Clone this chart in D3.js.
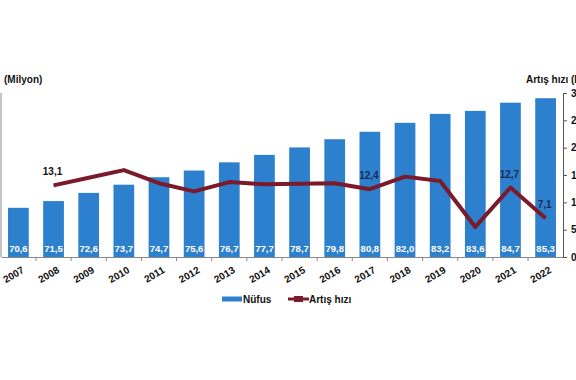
<!DOCTYPE html>
<html lang="tr">
<head>
<meta charset="UTF-8">
<title>Nüfus ve artış hızı</title>
<script src="https://cdn.jsdelivr.net/npm/d3@7"></script>
<style>
  body { margin: 0; background: #fff; }
  text { font-family: "Liberation Sans", Arial, sans-serif; }
</style>
</head>
<body>
<script>
// yillar, nufus (milyon) ve yillik artis hizi (binde)
var years = ["2007","2008","2009","2010","2011","2012","2013","2014","2015","2016","2017","2018","2019","2020","2021","2022"];
var population = [70.6, 71.5, 72.6, 73.7, 74.7, 75.6, 76.7, 77.7, 78.7, 79.8, 80.8, 82.0, 83.2, 83.6, 84.7, 85.3];
var growth = [null, 13.1, 14.5, 15.9, 13.5, 12.0, 13.7, 13.3, 13.4, 13.5, 12.4, 14.7, 13.9, 5.5, 12.7, 7.1];
var growthLabelled = ["2008", "2017", "2021", "2022"];
var rightTicks = [0, 5, 10, 15, 20, 25, 30];

var width = 576, height = 380;
// "top" is taken by window.top, so plot edges get their own names
var plotL = 1, plotR = 563, plotT = 93, plotB = 257;
var barColor = "#2d80cd", lineColor = "#7a1a2a";

var svg = d3.select("body").append("svg").attr("width", width).attr("height", height);

var x = d3.scaleBand().domain(years).range([plotL, plotR]).paddingInner(0.41).paddingOuter(0.2);
var yL = d3.scaleLinear().domain([64, 86]).range([plotB, plotT]);
var yR = d3.scaleLinear().domain([0, 30]).range([plotB, plotT]);

// bars
svg.selectAll("rect.bar")
    .data(population)
    .enter().append("rect")
    .attr("class", "bar")
    .attr("x", function(d, i) { return x(years[i]); })
    .attr("y", function(d) { return yL(d); })
    .attr("width", x.bandwidth())
    .attr("height", function(d) { return plotB - yL(d); })
    .attr("fill", barColor);

svg.selectAll("text.barlab")
    .data(population)
    .enter().append("text")
    .attr("class", "barlab")
    .attr("x", function(d, i) { return x(years[i]) + x.bandwidth() / 2; })
    .attr("y", plotB - 5)
    .attr("text-anchor", "middle")
    .attr("font-size", 9.5)
    .attr("font-weight", "bold")
    .attr("fill", "#fff")
    .text(function(d) { return d.toFixed(1).replace(".", ","); });

// axes
var gx = svg.append("g").attr("transform", "translate(0," + plotB + ")")
    .call(d3.axisBottom(x).tickSize(0).tickFormat(""));
gx.select(".domain").attr("stroke", "#888");
svg.append("g").selectAll("line")
    .data(years.slice(1))
    .enter().append("line")
    .attr("x1", function(d) { return x(d) - x.step() * x.paddingInner() / 2; })
    .attr("x2", function(d) { return x(d) - x.step() * x.paddingInner() / 2; })
    .attr("y1", plotB).attr("y2", plotB + 4)
    .attr("stroke", "#888");

svg.selectAll("text.year")
    .data(years)
    .enter().append("text")
    .attr("class", "year")
    .attr("transform", function(d) {
        return "translate(" + (x(d) + x.bandwidth() / 2 + 3) + "," + (plotB + 9) + ") rotate(-30)";
    })
    .attr("text-anchor", "end")
    .attr("dy", "0.7em")
    .attr("font-size", 10)
    .attr("font-weight", "bold")
    .attr("fill", "#111")
    .text(function(d) { return d; });

svg.append("line")
    .attr("x1", plotL).attr("x2", plotL).attr("y1", plotT).attr("y2", plotB)
    .attr("stroke", "#888");

var gr = svg.append("g").attr("transform", "translate(" + plotR + ",0)")
    .call(d3.axisRight(yR).tickValues(rightTicks).tickSize(4).tickPadding(4));
gr.select(".domain").attr("stroke", "#555");
gr.selectAll(".tick line").attr("stroke", "#555");
gr.selectAll(".tick text")
    .attr("font-size", 10).attr("font-weight", "bold").attr("fill", "#111")
    .style("font-family", "'Liberation Sans', Arial, sans-serif");

svg.append("text").attr("x", 4).attr("y", 83)
    .attr("font-size", 10).attr("font-weight", "bold").attr("fill", "#111")
    .text("(Milyon)");
svg.append("text").attr("x", 526).attr("y", 83)
    .attr("font-size", 10).attr("font-weight", "bold").attr("fill", "#111")
    .text("Artış hızı (Binde)");

// growth line
var pts = years.map(function(y, i) { return { year: y, v: growth[i] }; })
    .filter(function(d) { return d.v !== null; });
var line = d3.line()
    .x(function(d) { return x(d.year) + x.bandwidth() / 2; })
    .y(function(d) { return yR(d.v); });
svg.append("path").datum(pts)
    .attr("d", line)
    .attr("fill", "none")
    .attr("stroke", lineColor)
    .attr("stroke-width", 4)
    .attr("stroke-linejoin", "round");

svg.selectAll("text.glab")
    .data(pts.filter(function(d) { return growthLabelled.indexOf(d.year) >= 0; }))
    .enter().append("text")
    .attr("class", "glab")
    .attr("x", function(d) { return x(d.year) + x.bandwidth() / 2 - 1; })
    .attr("y", function(d) { return yR(d.v) - 10; })
    .attr("text-anchor", "middle")
    .attr("font-size", 10)
    .attr("font-weight", "bold")
    .attr("fill", function(d) { return d.year === "2008" ? "#111" : "#1c2b55"; })
    .text(function(d) { return d.v.toFixed(1).replace(".", ","); });

// legend
var lg = svg.append("g").attr("transform", "translate(0,299)");
lg.append("rect").attr("x", 222).attr("y", -2.5).attr("width", 20).attr("height", 5).attr("fill", barColor);
lg.append("text").attr("x", 243).attr("y", 3.5).attr("font-size", 10).attr("font-weight", "bold")
    .attr("fill", "#111").text("Nüfus");
lg.append("line").attr("x1", 288).attr("x2", 309).attr("y1", 0).attr("y2", 0)
    .attr("stroke", lineColor).attr("stroke-width", 3);
lg.append("rect").attr("x", 294).attr("y", -3).attr("width", 9).attr("height", 6).attr("fill", lineColor);
lg.append("text").attr("x", 309).attr("y", 3.5).attr("font-size", 10).attr("font-weight", "bold")
    .attr("fill", "#111").text("Artış hızı");
</script>
</body>
</html>
